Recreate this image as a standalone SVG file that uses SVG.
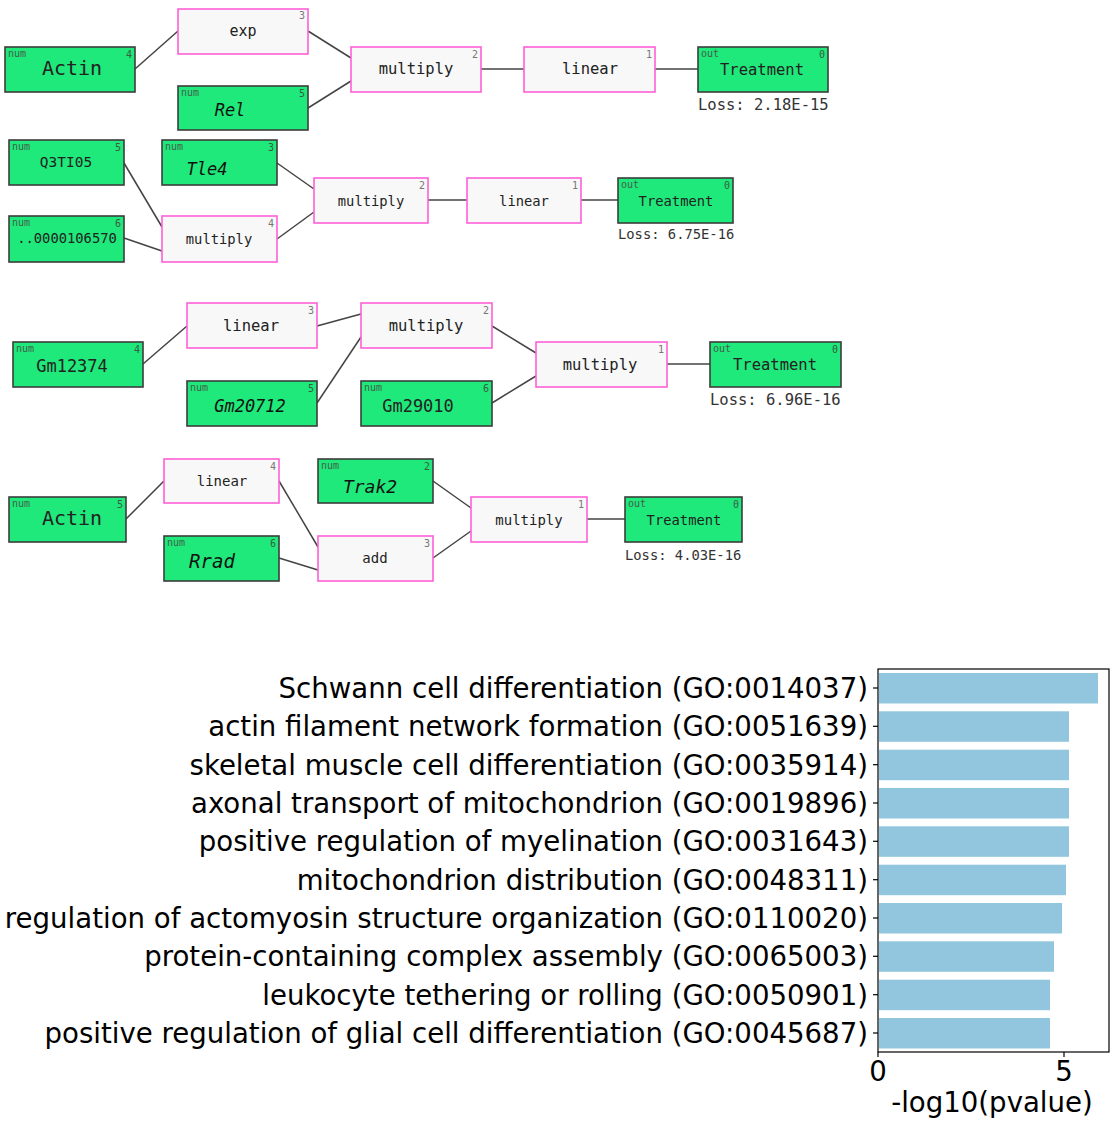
<svg xmlns="http://www.w3.org/2000/svg" width="1116" height="1122" viewBox="0 0 1116 1122">
<style>
.g{fill:#1ee97a;stroke:#3c3c3c;stroke-width:1.6}
.p{fill:#f8f8f8;stroke:#ff5fd8;stroke-width:1.6}
.m{font-family:"DejaVu Sans Mono","Liberation Mono",monospace;fill:#222}
.c{text-anchor:middle}
.i{font-style:italic;fill:#111}
.s{font-family:"DejaVu Sans Mono","Liberation Mono",monospace;font-size:10px;fill:#44604c}
.n{font-family:"DejaVu Sans Mono","Liberation Mono",monospace;font-size:10px;fill:#777;text-anchor:end}
.gn{fill:#3c5a44}
.loss{font-family:"DejaVu Sans Mono","Liberation Mono",monospace;fill:#333}
.e line{stroke:#444;stroke-width:1.5}
.lab{font-family:"DejaVu Sans","Liberation Sans",sans-serif;font-size:27.6px;fill:#000;text-anchor:end}
.bar{fill:#92c6de}
.ax line{stroke:#000;stroke-width:1.2}
</style>
<rect width="1116" height="1122" fill="#fff"/>
<g id="connectors" class="e">
<line x1="135" y1="69" x2="178" y2="31"/>
<line x1="308" y1="31" x2="351" y2="58"/>
<line x1="308" y1="108" x2="351" y2="81"/>
<line x1="481" y1="69" x2="524" y2="69"/>
<line x1="655" y1="69" x2="698" y2="69"/>
<line x1="124" y1="163" x2="162" y2="227"/>
<line x1="124" y1="238" x2="162" y2="251"/>
<line x1="277" y1="163" x2="314" y2="189"/>
<line x1="277" y1="239" x2="314" y2="212"/>
<line x1="428" y1="200" x2="467" y2="200"/>
<line x1="581" y1="200" x2="618" y2="200"/>
<line x1="143" y1="364" x2="187" y2="326"/>
<line x1="317" y1="326" x2="361" y2="314"/>
<line x1="317" y1="403" x2="361" y2="337"/>
<line x1="492" y1="326" x2="536" y2="353"/>
<line x1="492" y1="403" x2="536" y2="376"/>
<line x1="667" y1="364" x2="710" y2="364"/>
<line x1="126" y1="519" x2="164" y2="481"/>
<line x1="279" y1="481" x2="318" y2="547"/>
<line x1="279" y1="558" x2="318" y2="570"/>
<line x1="433" y1="481" x2="471" y2="508"/>
<line x1="433" y1="558" x2="471" y2="531"/>
<line x1="587" y1="519" x2="625" y2="519"/>
</g>
<!-- Row 1 -->
<g id="r1_actin"><rect class="g" x="5" y="47" width="130" height="45"/><text class="s" x="8" y="57">num</text><text class="n gn" x="132" y="58">4</text><text class="m c" x="72" y="75" font-size="20">Actin</text></g>
<g id="r1_exp"><rect class="p" x="178" y="9" width="130" height="45"/><text class="n" x="305" y="19">3</text><text class="m c" x="243" y="36" font-size="15">exp</text></g>
<g id="r1_rel"><rect class="g" x="178" y="86" width="130" height="44"/><text class="s" x="181" y="96">num</text><text class="n gn" x="305" y="97">5</text><text class="m c i" x="230" y="116" font-size="17">Rel</text></g>
<g id="r1_multiply"><rect class="p" x="351" y="47" width="130" height="45"/><text class="n" x="478" y="58">2</text><text class="m c" x="416" y="74" font-size="15.5">multiply</text></g>
<g id="r1_linear"><rect class="p" x="524" y="47" width="131" height="45"/><text class="n" x="652" y="58">1</text><text class="m c" x="590" y="74" font-size="15.5">linear</text></g>
<g id="r1_out"><rect class="g" x="698" y="47" width="130" height="45"/><text class="s" x="701" y="57">out</text><text class="n gn" x="825" y="58">0</text><text class="m c" x="762" y="75" font-size="15.5">Treatment</text><text class="loss" x="698" y="110" font-size="15.5">Loss: 2.18E-15</text></g>
<!-- Row 2 -->
<g id="r2_q3ti05"><rect class="g" x="9" y="140" width="115" height="45"/><text class="s" x="12" y="150">num</text><text class="n gn" x="121" y="151">5</text><text class="m c" x="66" y="167" font-size="14.5">Q3TI05</text></g>
<g id="r2_tle4"><rect class="g" x="162" y="140" width="115" height="45"/><text class="s" x="165" y="150">num</text><text class="n gn" x="274" y="151">3</text><text class="m c i" x="207" y="175" font-size="17">Tle4</text></g>
<g id="r2_ens"><rect class="g" x="9" y="216" width="115" height="46"/><text class="s" x="12" y="226">num</text><text class="n gn" x="121" y="227">6</text><text class="m c" x="67" y="243" font-size="13.8">..0000106570</text></g>
<g id="r2_multiply4"><rect class="p" x="162" y="216" width="115" height="46"/><text class="n" x="274" y="227">4</text><text class="m c" x="219" y="244" font-size="13.8">multiply</text></g>
<g id="r2_multiply2"><rect class="p" x="314" y="178" width="114" height="45"/><text class="n" x="425" y="189">2</text><text class="m c" x="371" y="206" font-size="13.8">multiply</text></g>
<g id="r2_linear"><rect class="p" x="467" y="178" width="114" height="45"/><text class="n" x="578" y="189">1</text><text class="m c" x="524" y="206" font-size="13.8">linear</text></g>
<g id="r2_out"><rect class="g" x="618" y="178" width="115" height="45"/><text class="s" x="621" y="188">out</text><text class="n gn" x="730" y="189">0</text><text class="m c" x="676" y="206" font-size="13.8">Treatment</text><text class="loss" x="618" y="239" font-size="13.8">Loss: 6.75E-16</text></g>
<!-- Row 3 -->
<g id="r3_gm12374"><rect class="g" x="13" y="342" width="130" height="45"/><text class="s" x="16" y="352">num</text><text class="n gn" x="140" y="353">4</text><text class="m c" x="72" y="372" font-size="17">Gm12374</text></g>
<g id="r3_linear"><rect class="p" x="187" y="303" width="130" height="45"/><text class="n" x="314" y="314">3</text><text class="m c" x="251" y="331" font-size="15.5">linear</text></g>
<g id="r3_gm20712"><rect class="g" x="187" y="381" width="130" height="45"/><text class="s" x="190" y="391">num</text><text class="n gn" x="314" y="392">5</text><text class="m c i" x="250" y="412" font-size="17">Gm20712</text></g>
<g id="r3_multiply2"><rect class="p" x="361" y="303" width="131" height="45"/><text class="n" x="489" y="314">2</text><text class="m c" x="426" y="331" font-size="15.5">multiply</text></g>
<g id="r3_gm29010"><rect class="g" x="361" y="381" width="131" height="45"/><text class="s" x="364" y="391">num</text><text class="n gn" x="489" y="392">6</text><text class="m c" x="418" y="412" font-size="17">Gm29010</text></g>
<g id="r3_multiply1"><rect class="p" x="536" y="342" width="131" height="45"/><text class="n" x="664" y="353">1</text><text class="m c" x="600" y="370" font-size="15.5">multiply</text></g>
<g id="r3_out"><rect class="g" x="710" y="342" width="131" height="45"/><text class="s" x="713" y="352">out</text><text class="n gn" x="838" y="353">0</text><text class="m c" x="775" y="370" font-size="15.5">Treatment</text><text class="loss" x="710" y="405" font-size="15.5">Loss: 6.96E-16</text></g>
<!-- Row 4 -->
<g id="r4_actin"><rect class="g" x="9" y="497" width="117" height="45"/><text class="s" x="12" y="507">num</text><text class="n gn" x="123" y="508">5</text><text class="m c" x="72" y="525" font-size="20">Actin</text></g>
<g id="r4_linear"><rect class="p" x="164" y="459" width="115" height="44"/><text class="n" x="276" y="470">4</text><text class="m c" x="222" y="486" font-size="14">linear</text></g>
<g id="r4_rrad"><rect class="g" x="164" y="536" width="115" height="45"/><text class="s" x="167" y="546">num</text><text class="n gn" x="276" y="547">6</text><text class="m c i" x="212" y="568" font-size="19">Rrad</text></g>
<g id="r4_trak2"><rect class="g" x="318" y="459" width="115" height="44"/><text class="s" x="321" y="469">num</text><text class="n gn" x="430" y="470">2</text><text class="m c i" x="370" y="493" font-size="18">Trak2</text></g>
<g id="r4_add"><rect class="p" x="318" y="536" width="115" height="45"/><text class="n" x="430" y="547">3</text><text class="m c" x="375" y="563" font-size="14">add</text></g>
<g id="r4_multiply"><rect class="p" x="471" y="497" width="116" height="45"/><text class="n" x="584" y="508">1</text><text class="m c" x="529" y="525" font-size="14">multiply</text></g>
<g id="r4_out"><rect class="g" x="625" y="497" width="117" height="45"/><text class="s" x="628" y="507">out</text><text class="n gn" x="739" y="508">0</text><text class="m c" x="684" y="525" font-size="13.8">Treatment</text><text class="loss" x="625" y="560" font-size="13.8">Loss: 4.03E-16</text></g>
<!-- Bar chart -->
<g id="chart">
<g id="bars">
<rect class="bar" x="879" y="673" width="219" height="30.5"/>
<rect class="bar" x="879" y="711.3" width="190" height="30.5"/>
<rect class="bar" x="879" y="749.7" width="190" height="30.5"/>
<rect class="bar" x="879" y="788" width="190" height="30.5"/>
<rect class="bar" x="879" y="826.3" width="190" height="30.5"/>
<rect class="bar" x="879" y="864.7" width="187" height="30.5"/>
<rect class="bar" x="879" y="903" width="183" height="30.5"/>
<rect class="bar" x="879" y="941.3" width="175" height="30.5"/>
<rect class="bar" x="879" y="979.7" width="171" height="30.5"/>
<rect class="bar" x="879" y="1018" width="171" height="30.5"/>
</g>
<g class="ax">
<rect x="878" y="669" width="231" height="383" fill="none" stroke="#000" stroke-width="1.2"/>
<line x1="873" y1="688" x2="878" y2="688"/>
<line x1="873" y1="726.3" x2="878" y2="726.3"/>
<line x1="873" y1="764.7" x2="878" y2="764.7"/>
<line x1="873" y1="803" x2="878" y2="803"/>
<line x1="873" y1="841.3" x2="878" y2="841.3"/>
<line x1="873" y1="879.7" x2="878" y2="879.7"/>
<line x1="873" y1="918" x2="878" y2="918"/>
<line x1="873" y1="956.3" x2="878" y2="956.3"/>
<line x1="873" y1="994.7" x2="878" y2="994.7"/>
<line x1="873" y1="1033" x2="878" y2="1033"/>
<line x1="878" y1="1052" x2="878" y2="1057"/>
<line x1="1064" y1="1052" x2="1064" y2="1057"/>
</g>
<g id="ylabels">
<text class="lab" x="868" y="698">Schwann cell differentiation (GO:0014037)</text>
<text class="lab" x="868" y="736.3">actin filament network formation (GO:0051639)</text>
<text class="lab" x="868" y="774.7">skeletal muscle cell differentiation (GO:0035914)</text>
<text class="lab" x="868" y="813">axonal transport of mitochondrion (GO:0019896)</text>
<text class="lab" x="868" y="851.3">positive regulation of myelination (GO:0031643)</text>
<text class="lab" x="868" y="889.7">mitochondrion distribution (GO:0048311)</text>
<text class="lab" x="868" y="928">regulation of actomyosin structure organization (GO:0110020)</text>
<text class="lab" x="868" y="966.3">protein-containing complex assembly (GO:0065003)</text>
<text class="lab" x="868" y="1004.7">leukocyte tethering or rolling (GO:0050901)</text>
<text class="lab" x="868" y="1043">positive regulation of glial cell differentiation (GO:0045687)</text>
</g>
<text class="lab" x="878" y="1081" style="text-anchor:middle">0</text>
<text class="lab" x="1064" y="1081" style="text-anchor:middle">5</text>
<text class="lab" x="992" y="1112" style="text-anchor:middle">-log10(pvalue)</text>
</g>
</svg>
